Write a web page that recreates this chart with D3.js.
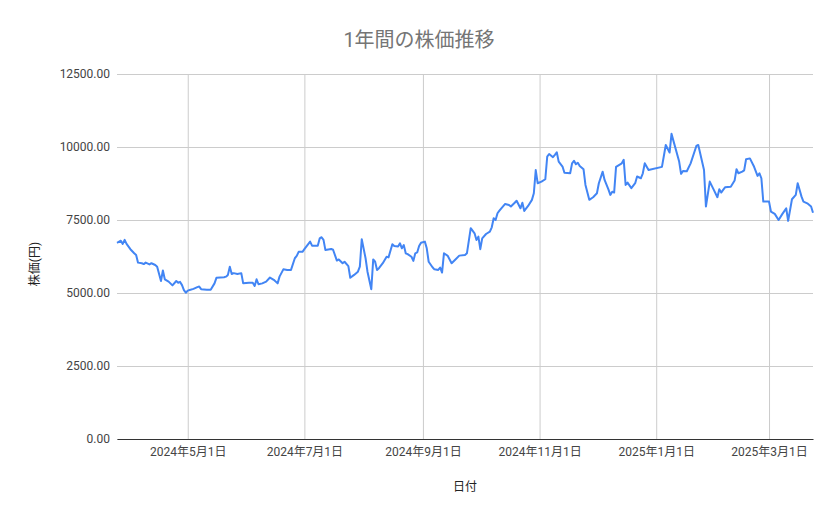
<!DOCTYPE html>
<html>
<head>
<meta charset="utf-8">
<script src="https://cdn.jsdelivr.net/npm/d3@7"></script>
<style>
  body { margin: 0; background: #fff; }
  text { font-family: Roboto, "Noto Sans CJK JP", sans-serif; }
</style>
</head>
<body>
<div id="vis"></div>
<script>
// Data: trading dates and closing prices
let dates = [
  '2024-03-25','2024-03-27','2024-03-28','2024-03-29','2024-03-30','2024-04-01','2024-04-03','2024-04-04','2024-04-05','2024-04-07',
  '2024-04-08','2024-04-09','2024-04-11','2024-04-12','2024-04-14','2024-04-15','2024-04-17','2024-04-18','2024-04-19','2024-04-21',
  '2024-04-23','2024-04-25','2024-04-26','2024-04-27','2024-04-28','2024-04-29','2024-04-30','2024-05-01','2024-05-02','2024-05-04',
  '2024-05-06','2024-05-07','2024-05-08','2024-05-11','2024-05-13','2024-05-15','2024-05-16','2024-05-20','2024-05-21','2024-05-22',
  '2024-05-23','2024-05-24','2024-05-25','2024-05-27','2024-05-29','2024-05-30','2024-06-02','2024-06-04','2024-06-05','2024-06-06',
  '2024-06-07','2024-06-09','2024-06-11','2024-06-13','2024-06-15','2024-06-17','2024-06-18','2024-06-20','2024-06-22','2024-06-24',
  '2024-06-26','2024-06-27','2024-06-28','2024-06-30','2024-07-01','2024-07-04','2024-07-05','2024-07-08','2024-07-09','2024-07-10',
  '2024-07-11','2024-07-12','2024-07-15','2024-07-16','2024-07-18','2024-07-19','2024-07-21','2024-07-22','2024-07-24','2024-07-25',
  '2024-07-27','2024-07-29','2024-07-30','2024-07-31','2024-08-02','2024-08-03','2024-08-05','2024-08-06','2024-08-07','2024-08-08',
  '2024-08-09','2024-08-11','2024-08-13','2024-08-14','2024-08-16','2024-08-17','2024-08-19','2024-08-20','2024-08-21','2024-08-22',
  '2024-08-23','2024-08-24','2024-08-26','2024-08-27','2024-08-28','2024-08-29','2024-08-30','2024-08-31','2024-09-02','2024-09-03',
  '2024-09-04','2024-09-06','2024-09-07','2024-09-09','2024-09-10','2024-09-11','2024-09-12','2024-09-14','2024-09-16','2024-09-18',
  '2024-09-20','2024-09-23','2024-09-24','2024-09-26','2024-09-28','2024-09-29','2024-09-30','2024-10-01','2024-10-02','2024-10-04',
  '2024-10-06','2024-10-07','2024-10-08','2024-10-09','2024-10-10','2024-10-11','2024-10-12','2024-10-14','2024-10-16','2024-10-17',
  '2024-10-19','2024-10-20','2024-10-22','2024-10-23','2024-10-24','2024-10-26','2024-10-28','2024-10-29','2024-10-30','2024-10-31',
  '2024-11-02','2024-11-04','2024-11-05','2024-11-06','2024-11-08','2024-11-09','2024-11-10','2024-11-11','2024-11-13','2024-11-14',
  '2024-11-17','2024-11-18','2024-11-19','2024-11-20','2024-11-21','2024-11-22','2024-11-24','2024-11-25','2024-11-27','2024-11-29',
  '2024-12-01','2024-12-02','2024-12-04','2024-12-05','2024-12-07','2024-12-08','2024-12-09','2024-12-10','2024-12-11','2024-12-14',
  '2024-12-15','2024-12-16','2024-12-17','2024-12-19','2024-12-21','2024-12-22','2024-12-24','2024-12-25','2024-12-26','2024-12-28',
  '2025-01-04','2025-01-06','2025-01-08','2025-01-09','2025-01-13','2025-01-14','2025-01-15','2025-01-17','2025-01-19','2025-01-22',
  '2025-01-23','2025-01-26','2025-01-27','2025-01-29','2025-01-31','2025-02-02','2025-02-03','2025-02-04','2025-02-05','2025-02-06',
  '2025-02-09','2025-02-11','2025-02-12','2025-02-13','2025-02-15','2025-02-16','2025-02-17','2025-02-19','2025-02-21','2025-02-23',
  '2025-02-24','2025-02-25','2025-02-26','2025-03-01','2025-03-02','2025-03-04','2025-03-06','2025-03-08','2025-03-10','2025-03-11',
  '2025-03-13','2025-03-15','2025-03-16','2025-03-18','2025-03-19','2025-03-21','2025-03-23','2025-03-24'
];
let prices = [
  6720,6790,6680,6820,6680,6500,6360,6300,6040,6020,
  5990,6040,5980,6020,5960,5900,5410,5770,5470,5390,
  5260,5410,5350,5380,5270,5100,5010,5080,5100,5140,
  5200,5220,5130,5110,5110,5330,5520,5540,5560,5620,
  5900,5650,5680,5650,5680,5330,5350,5350,5240,5470,
  5300,5330,5390,5530,5450,5330,5560,5810,5790,5790,
  6190,6270,6410,6410,6500,6760,6620,6620,6870,6910,
  6820,6470,6510,6480,6110,6150,6020,6070,5920,5520,
  5620,5730,5900,6840,6190,5730,5130,6150,6070,5790,
  5850,6020,6240,6220,6670,6610,6590,6700,6530,6640,
  6360,6330,6240,6100,6360,6390,6610,6720,6760,6530,
  6070,5880,5810,5790,5870,5700,6360,6270,6020,6150,
  6280,6300,6360,7220,7045,6816,6930,6500,6870,7020,
  7100,7250,7560,7500,7730,7820,7900,8050,8015,7960,
  8090,8160,7900,8090,7810,7980,8190,8415,9210,8760,
  8815,8895,9670,9760,9650,9730,9820,9500,9330,9120,
  9100,9440,9530,9410,9460,9350,9237,8700,8190,8280,
  8415,8760,9155,8870,8550,8360,8470,8440,9320,9440,
  9560,8700,8780,8590,8760,8990,8930,9100,9440,9210,
  9320,10070,9810,10450,9500,9080,9180,9170,9440,10035,
  10070,9210,7960,8815,8550,8280,8550,8440,8530,8620,
  8640,8850,9240,9100,9155,9200,9580,9610,9350,9010,
  9100,8930,8130,8130,7790,7710,7500,7710,7900,7470,
  8210,8360,8760,8300,8130,8070,7960,7750
];
let yTicks = [0, 2500, 5000, 7500, 10000, 12500];
let xTicks = ['2024-05-01','2024-07-01','2024-09-01','2024-11-01','2025-01-01','2025-03-01'];

let parseDate = d3.timeParse('%Y-%m-%d');
let data = dates.map(function(d, i) {
  return { date: parseDate(d), price: prices[i] };
});

// Create SVG
let width = 839,
    height = 519;

let margin = {
  top: 74,
  bottom: 80,
  left: 117,
  right: 26
};

let svg = d3.select('#vis')
  .append('svg')
  .attr('width', width)
  .attr('height', height);

// Define Scales
let xScale = d3.scaleTime()
  .domain(d3.extent(data, function(d) { return d.date; }))
  .range([margin.left, width - margin.right]);

let yScale = d3.scaleLinear()
  .domain([0, 12500])
  .range([height - margin.bottom, margin.top]);

// Gridlines
svg.append('g')
  .attr('transform', `translate(${margin.left},0)`)
  .call(d3.axisLeft(yScale).tickValues(yTicks).tickSize(-(width - margin.left - margin.right)).tickFormat(''))
  .call(function(g) { g.select('.domain').remove(); })
  .selectAll('line')
    .attr('stroke', '#cccccc');

svg.append('g')
  .attr('transform', `translate(0,${height - margin.bottom})`)
  .call(d3.axisBottom(xScale).tickValues(xTicks.map(parseDate)).tickSize(-(height - margin.top - margin.bottom)).tickFormat(''))
  .call(function(g) { g.select('.domain').remove(); })
  .selectAll('line')
    .attr('stroke', '#cccccc');

//Draw Axes
let yAxis = svg.append('g')
  .attr('transform', `translate(${margin.left},0)`)
  .call(d3.axisLeft(yScale).tickValues(yTicks).tickSize(0).tickPadding(7)
    .tickFormat(function(d) { return d3.format('.2f')(d); }));
yAxis.select('.domain').remove();
yAxis.selectAll('text')
  .attr('fill', '#444444')
  .style('font-size', '12px');

let xAxis = svg.append('g')
  .attr('transform', `translate(0,${height - margin.bottom})`)
  .call(d3.axisBottom(xScale).tickValues(xTicks.map(parseDate)).tickSize(0).tickPadding(8)
    .tickFormat(d3.timeFormat('%Y年%-m月%-d日')));
xAxis.select('.domain')
  .attr('stroke', '#333333');
xAxis.selectAll('text')
  .attr('fill', '#444444')
  .style('font-size', '12px');

// Line
let line = d3.line()
  .x(function(d) { return xScale(d.date); })
  .y(function(d) { return yScale(d.price); });

svg.append('path')
  .datum(data)
  .attr('fill', 'none')
  .attr('stroke', '#4285f4')
  .attr('stroke-width', 2)
  .attr('stroke-linejoin', 'round')
  .attr('d', line);

// Title and axis labels
svg.append('text')
  .attr('x', 419)
  .attr('y', 47)
  .attr('text-anchor', 'middle')
  .attr('fill', '#757575')
  .style('font-size', '20px')
  .text('1年間の株価推移');

svg.append('text')
  .attr('x', 465)
  .attr('y', 491)
  .attr('text-anchor', 'middle')
  .attr('fill', '#222222')
  .style('font-size', '12px')
  .text('日付');

svg.append('text')
  .attr('transform', 'translate(39,264) rotate(-90)')
  .attr('text-anchor', 'middle')
  .attr('fill', '#222222')
  .style('font-size', '12px')
  .text('株価(円)');
</script>
</body>
</html>
